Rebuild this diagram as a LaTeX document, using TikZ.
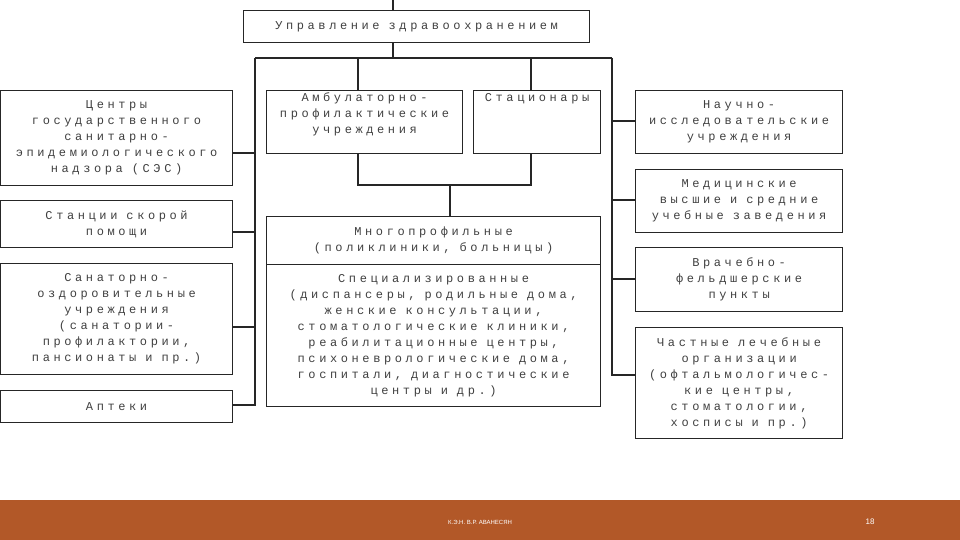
\documentclass[tikz,border=0pt]{standalone}
\usepackage{fontspec}
\setmainfont{Liberation Sans}
\newfontfamily\boxfontraw[LetterSpace=30]{Liberation Mono}
\newcommand\boxfont{\boxfontraw\fontsize{12}{16}\selectfont}
\newcommand\s{\hspace{9pt}}
\definecolor{foot}{RGB}{178,88,40}
\begin{document}
\begin{tikzpicture}[x=1pt,y=-1pt,
  bx/.style={draw=black!85,line width=1.2pt,inner sep=0pt,anchor=north west,align=center,
    font=\boxfont,text=black!75},
  ln/.style={draw=black!85,line width=1.2pt}]
\useasboundingbox (0,0) rectangle (960,540);
\fill[white] (0,0) rectangle (960,540);
\newcommand\bx[6]{\node[bx,minimum width=#3-#1,minimum height=#4-#2] (#5) at (#1,#2) {#6};}
\bx{243}{10}{589}{42}{top}{Управление\s здравоохранением}
\bx{0}{90}{232}{185}{l1}{Центры\\государственного\\санитарно-\\эпидемиологического\\надзора\s (СЭС)}
\bx{0}{200}{232}{247}{l2}{Станции\s скорой\\помощи}
\bx{0}{263}{232}{374}{l3}{Санаторно-\\оздоровительные\\учреждения\\(санатории-\\профилактории,\\пансионаты\s и\s пр.)}
\bx{0}{390}{232}{422}{l4}{Аптеки}
\bx{266}{90}{462}{153}{amb}{Амбулаторно-\\профилактические\\учреждения\\[2pt]}
\bx{473}{90}{600}{153}{st}{Стационары\\[34pt]}
\bx{266}{216}{600}{264}{mn}{Многопрофильные\\(поликлиники,\s больницы)}
\bx{266}{264}{600}{406}{sp}{Специализированные\\(диспансеры,\s родильные\s дома,\\женские\s консультации,\\стоматологические\s клиники,\\реабилитационные\s центры,\\психоневрологические\s дома,\\госпитали,\s диагностические\\центры\s и\s др.)}
\bx{635}{90}{842}{153}{r1}{Научно-\\исследовательские\\учреждения}
\bx{635}{169}{842}{232}{r2}{Медицинские\\высшие\s и\s средние\\учебные\s заведения}
\bx{635}{247}{842}{311}{r3}{Врачебно-\\фельдшерские\\пункты}
\bx{635}{327}{842}{438}{r4}{Частные\s лечебные\\организации\\(офтальмологичес-\\кие\s центры,\\стоматологии,\\хосписы\s и\s пр.)}
\coordinate (t0) at (393,0);
\coordinate (bl) at (255,58);
\coordinate (br) at (612,58);
\draw[ln] (t0) -- (top.north -| t0);
\draw[ln] (top.south -| t0) -- (393,58);
\draw[ln] (bl) -- (br);
\draw[ln] (bl) -- (255,405) -- (l4.east |- 0,405);
\draw[ln] (255,153) -- (l1.east |- 0,153);
\draw[ln] (255,232) -- (l2.east |- 0,232);
\draw[ln] (255,327) -- (l3.east |- 0,327);
\draw[ln] (358,58) -- (amb.north -| 358,0);
\draw[ln] (531,58) -- (st.north -| 531,0);
\draw[ln] (amb.south -| 358,0) -- (358,185) -- (531,185) -- (st.south -| 531,0);
\draw[ln] (450,185) -- (mn.north -| 450,0);
\draw[ln] (br) -- (612,375) -- (r4.west |- 0,375);
\draw[ln] (612,121) -- (r1.west |- 0,121);
\draw[ln] (612,200) -- (r2.west |- 0,200);
\draw[ln] (612,279) -- (r3.west |- 0,279);
\fill[foot] (0,500) rectangle (960,540);
\node[text=white,font=\fontsize{6}{7}\selectfont] (au) at (480,522) {К.Э.Н. В.Р. АВАНЕСЯН};
\node[text=white,font=\fontsize{8}{9}\selectfont] (pg) at (870,522) {18};
\end{tikzpicture}
\end{document}
